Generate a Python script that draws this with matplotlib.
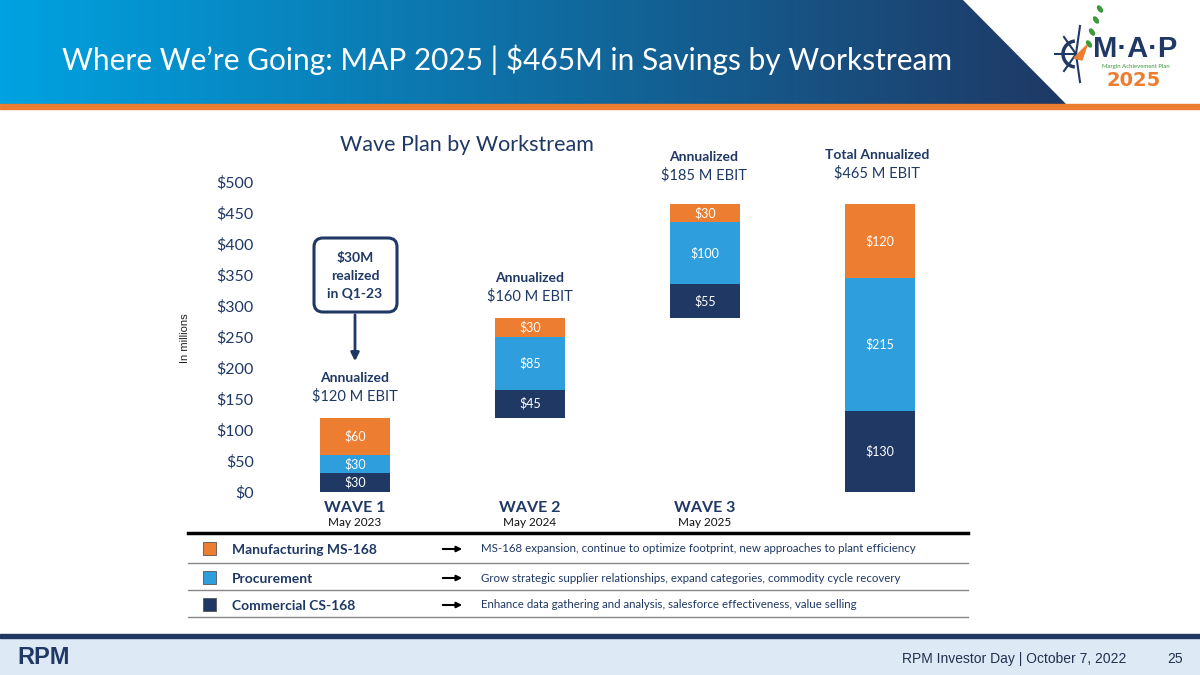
import numpy as np
import matplotlib.pyplot as plt
from matplotlib.patches import Polygon, Rectangle, FancyBboxPatch, Arc, Ellipse

plt.rcParams['font.family'] = ['Lato', 'DejaVu Sans']

# ============================================================
# DATA
# ============================================================

waves = ["WAVE 1", "WAVE 2", "WAVE 3", ""]
wave_dates = ["May 2023", "May 2024", "May 2025", ""]

commercial = [30, 45, 55, 130]
procurement = [30, 85, 100, 215]
manufacturing = [60, 30, 30, 120]
base = [0, 120, 280, 0]

headers = [("Annualized", "$120 M EBIT"),
           ("Annualized", "$160 M EBIT"),
           ("Annualized", "$185 M EBIT"),
           ("Total Annualized", "$465 M EBIT")]

yticks = list(range(0, 501, 50))

legend_names = ["Manufacturing MS-168", "Procurement", "Commercial CS-168"]
legend_desc = [
    "MS-168 expansion, continue to optimize footprint, new approaches to plant efficiency",
    "Grow strategic supplier relationships, expand categories, commodity cycle recovery",
    "Enhance data gathering and analysis, salesforce effectiveness, value selling",
]

ORANGE = "#ED7D31"
BLUE = "#2E9EDD"
NAVY = "#1F3864"
TXT = "#1F3864"

# ============================================================
# SLIDE BACKGROUND (pixel coords)
# ============================================================

fig = plt.figure(figsize=(12, 6.75), dpi=100)
bg = fig.add_axes([0, 0, 1, 1])
bg.set_xlim(0, 1200)
bg.set_ylim(675, 0)
bg.axis("off")

# header gradient with slanted right edge
grad = np.linspace(0, 1, 256)
c0 = np.array([0, 162, 225]) / 255
c1 = np.array([31, 56, 100]) / 255
img = (c0[None, :] * (1 - grad[:, None]) + c1[None, :] * grad[:, None])[None, :, :]
im = bg.imshow(img, extent=(0, 1070, 104, 0), aspect="auto", zorder=1)
clip = Polygon([(0, 0), (963, 0), (1066, 104), (0, 104)], closed=True,
               transform=bg.transData, facecolor="none", edgecolor="none")
bg.add_patch(clip)
im.set_clip_path(clip)
bg.add_patch(Rectangle((0, 104), 1200, 5, color=ORANGE, zorder=2))

bg.text(507, 60, "Where We\u2019re Going: MAP 2025 | $465M in Savings by Workstream",
        color="white", fontsize=21.5, ha="center", va="center", zorder=3)

# MAP logo (simplified)
cx, cy = 1076, 54
bg.add_patch(Arc((cx, cy), 26, 26, theta1=95, theta2=265, color=NAVY, lw=2.5, zorder=3))
for px, py in [(1055, 54), (1064, 37), (1064, 71), (1080, 26), (1080, 82)]:
    bg.plot([cx, px], [cy, py], color=NAVY, lw=1.5, zorder=3)
for lx, ly in [(1089, 44), (1092, 32), (1096, 20), (1100, 9)]:
    bg.add_patch(Ellipse((lx, ly), 3.5, 7, angle=-35, color="#3C9A3C", zorder=3))
bg.add_patch(Polygon([(1074, 58), (1087, 45), (1082, 60)], color=ORANGE, zorder=3))
bg.text(1135, 49, "M\u00b7A\u00b7P", color=NAVY, fontsize=21, fontweight="bold",
        ha="center", va="center", zorder=3, family="Liberation Sans")
bg.text(1136, 66.5, "Margin Achievement Plan", color="#3C9A3C", fontsize=4.3,
        ha="center", va="center", zorder=3)
bg.text(1134, 81, "2025", color=ORANGE, fontsize=14, fontweight="bold",
        ha="center", va="center", zorder=3, family="Liberation Sans Narrow")

# footer
bg.add_patch(Rectangle((0, 634), 1200, 4, color=NAVY, zorder=2))
bg.add_patch(Rectangle((0, 638), 1200, 37, color="#DDEAF6", zorder=1))
bg.text(17, 657, "RPM", color=NAVY, fontsize=17, fontweight="bold",
        ha="left", va="center", family=["Liberation Sans Narrow", "Liberation Sans"])
bg.text(1126, 659, "RPM Investor Day | October 7, 2022", color="#22304F",
        fontsize=10, ha="right", va="center", family="Liberation Sans")
bg.text(1183, 659, "25", color="#22304F", fontsize=10, ha="right", va="center",
        family="Liberation Sans")

# ============================================================
# CHART
# ============================================================

x_left, x_right, y_bot, y_top = 262, 985, 492, 182
ax = fig.add_axes([x_left / 1200, 1 - y_bot / 675,
                   (x_right - x_left) / 1200, (y_bot - y_top) / 675])
ax.set_facecolor("none")
xs = np.arange(len(waves))
ax.set_xlim((x_left - 355) / 175, (x_right - 355) / 175)
ax.set_ylim(0, 500)

w = 0.4
b = np.array(base, dtype=float)
for vals, col in [(commercial, NAVY), (procurement, BLUE), (manufacturing, ORANGE)]:
    ax.bar(xs, vals, bottom=b, width=w, color=col, linewidth=0)
    for xi, bi, v in zip(xs, b, vals):
        ax.text(xi, bi + v / 2, f"${v}", color="white", fontsize=9,
                ha="center", va="center")
    b = b + np.array(vals)

ax.set_yticks(yticks)
ax.set_yticklabels([f"${t}" for t in yticks], color=TXT, fontsize=11.5)
ax.tick_params(axis="y", length=0, pad=6)
ax.set_xticks([])
for s in ax.spines.values():
    s.set_visible(False)

# wave labels
for xi, name, date in zip(xs, waves, wave_dates):
    if name:
        ax.text(xi, -25, name, color=TXT, fontsize=11.5, fontweight="bold",
                ha="center", va="center", clip_on=False)
        ax.text(xi, -50, date, color="#111111", fontsize=8.5,
                ha="center", va="center", clip_on=False)

fig.text(185 / 1200, 1 - 338 / 675, "In millions", rotation=90, fontsize=8,
         color="#222222", ha="center", va="center", family="Liberation Sans")

bg.text(467, 145, "Wave Plan by Workstream", color=TXT, fontsize=15.5,
        ha="center", va="center")

head_pos = [(355, 378), (530, 278), (704, 157), (877, 155)]
for (hx, hy), (h1, h2) in zip(head_pos, headers):
    bg.text(hx, hy, h1, color=TXT, fontsize=10, fontweight="bold",
            ha="center", va="center")
    bg.text(hx, hy + 18, h2, color=TXT, fontsize=10.5, ha="center", va="center")

# callout box
bg.add_patch(FancyBboxPatch((318, 242), 75, 66, boxstyle="round,pad=4,rounding_size=9",
                            facecolor="white", edgecolor=NAVY, lw=2.2, zorder=4))
for ty, t in zip([258, 276, 294], ["$30M", "realized", "in Q1-23"]):
    bg.text(355, ty, t, color=TXT, fontsize=10, fontweight="bold",
            ha="center", va="center", zorder=5)
bg.annotate("", xy=(355, 364), xytext=(355, 312),
            arrowprops=dict(arrowstyle="-|>", color=NAVY, lw=2, mutation_scale=12))

# ============================================================
# LEGEND TABLE
# ============================================================

bg.plot([188, 968], [533, 533], color="black", lw=2.5)
row_y = [549, 578, 605]
line_y = [563, 590, 617]
for ry, ly, name, desc, col in zip(row_y, line_y, legend_names, legend_desc,
                                   [ORANGE, BLUE, NAVY]):
    bg.add_patch(Rectangle((203, ry - 7), 13, 13, facecolor=col,
                           edgecolor="#555555", lw=0.6))
    bg.text(232, ry + 1, name, color=TXT, fontsize=10, fontweight="bold",
            ha="left", va="center")
    bg.annotate("", xy=(465, ry), xytext=(440, ry),
                arrowprops=dict(arrowstyle="-|>", color="black", lw=1.5,
                                mutation_scale=8))
    bg.text(481, ry, desc, color=TXT, fontsize=8.3, ha="left", va="center")
    bg.plot([188, 968], [ly, ly], color="#888888", lw=1)

plt.savefig("out.png", dpi=100)
